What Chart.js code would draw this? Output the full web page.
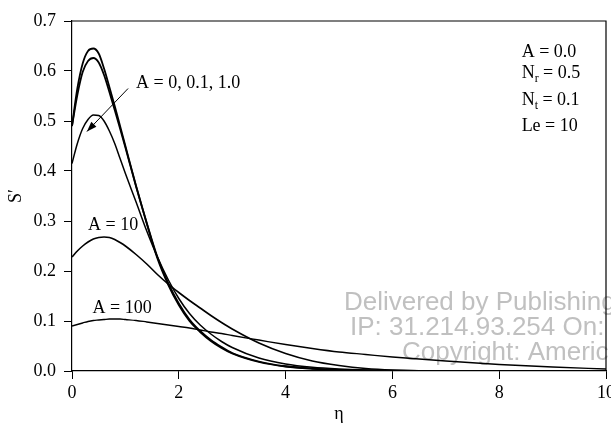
<!DOCTYPE html>
<html><head><meta charset="utf-8">
<script src="https://cdn.jsdelivr.net/npm/chart.js@4/dist/chart.umd.min.js"></script>
<style>html,body{margin:0;padding:0;background:#fff}#wrap{width:611px;height:427px}</style>
</head><body><div id="wrap"><canvas id="c" width="611" height="427"></canvas></div>
<script>
// η grid shared by all curves
const eta = [0,0.1,0.2,0.3,0.4,0.5,0.6,0.7,0.8,0.9,1.0,1.2,1.4,1.6,1.8,2.0,2.2,2.4,2.6,2.8,3.0,3.5,4.0,4.5,5.0,5.5,6,7,8,9,10];
const sA0   = [0.49,0.565,0.615,0.64,0.645,0.635,0.605,0.568,0.53,0.49,0.45,0.37,0.295,0.225,0.173,0.132,0.1,0.078,0.06,0.046,0.035,0.018,0.009,0.0045,0.002,0.001,0,0,0,0,0];
const sA01  = [0.49,0.552,0.598,0.62,0.626,0.617,0.592,0.558,0.522,0.485,0.447,0.369,0.296,0.228,0.176,0.135,0.103,0.08,0.062,0.048,0.036,0.019,0.0095,0.0048,0.0022,0.001,0,0,0,0,0];
const sA1   = [0.415,0.455,0.485,0.503,0.512,0.511,0.5,0.48,0.455,0.425,0.395,0.338,0.28,0.228,0.183,0.145,0.115,0.092,0.074,0.059,0.047,0.026,0.014,0.0075,0.004,0.002,0.001,0,0,0,0];
const sA10  = [0.228,0.24,0.25,0.258,0.264,0.267,0.268,0.267,0.263,0.257,0.25,0.233,0.214,0.193,0.174,0.157,0.141,0.126,0.111,0.097,0.084,0.056,0.035,0.02,0.011,0.005,0.002,0,0,0,0];
const sA100 = [0.09,0.093,0.096,0.099,0.101,0.102,0.103,0.104,0.104,0.104,0.103,0.101,0.098,0.095,0.092,0.089,0.086,0.082,0.078,0.075,0.071,0.062,0.053,0.045,0.038,0.033,0.028,0.02,0.013,0.008,0.004];
const seriesNames = ['A = 0','A = 0.1','A = 1.0','A = 10','A = 100'];
const seriesValues = [sA0, sA01, sA1, sA10, sA100];
const seriesWidths = [1.8, 1.8, 1.5, 1.6, 1.3];
const xTickValues = [0,2,4,6,8,10];
const yTickValues = [0.0,0.1,0.2,0.3,0.4,0.5,0.6,0.7];
const paramLines = [['A',null,' = 0.0'],['N','r',' = 0.5'],['N','t',' = 0.1'],['Le',null,' = 10']];
const watermark = ['Delivered by Publishing','IP: 31.214.93.254 On:','Copyright: Americ'];

const SERIF = '"Liberation Serif", "Times New Roman", serif';
const FS = 18;

const datasets = seriesValues.map((vals,i)=>({
  label: seriesNames[i],
  data: eta.map((x,j)=>({x:x,y:vals[j]})),
  borderColor:'#000', backgroundColor:'#000',
  borderWidth: seriesWidths[i], pointRadius:0,
  cubicInterpolationMode:'monotone', fill:false
}));

const annot = {
  id:'annot',
  beforeDatasetsDraw(chart){
    const ctx = chart.ctx;
    ctx.save();
    ctx.fillStyle = 'rgba(185,185,185,0.9)';
    ctx.font = '26px "Liberation Sans", Arial, sans-serif';
    ctx.textBaseline = 'middle';
    ctx.textAlign = 'left';
    ctx.fillText(watermark[0], 344, 303);
    ctx.fillText(watermark[1], 350, 328);
    ctx.fillText(watermark[2], 402, 353);
    ctx.restore();
  },
  afterDatasetsDraw(chart){
    const {ctx, chartArea:a, scales:{x,y}} = chart;
    ctx.save();
    // frame top/right
    ctx.strokeStyle = '#000'; ctx.lineWidth = 1.2;
    ctx.beginPath();
    ctx.moveTo(a.left, a.top); ctx.lineTo(a.right, a.top); ctx.lineTo(a.right, a.bottom);
    ctx.stroke();
    ctx.fillStyle = '#000';
    ctx.font = FS + 'px ' + SERIF;
    ctx.textBaseline = 'middle';
    // label with arrow
    ctx.textAlign = 'left';
    ctx.fillText('A = 0, 0.1, 1.0', x.getPixelForValue(1.2), y.getPixelForValue(0.575));
    const x1 = x.getPixelForValue(1.05), y1 = y.getPixelForValue(0.565);
    const x2 = x.getPixelForValue(0.28), y2 = y.getPixelForValue(0.479);
    ctx.lineWidth = 1;
    ctx.beginPath(); ctx.moveTo(x1,y1); ctx.lineTo(x2,y2); ctx.stroke();
    const ang = Math.atan2(y2-y1, x2-x1), L = 10, W = 3.5;
    ctx.beginPath();
    ctx.moveTo(x2,y2);
    ctx.lineTo(x2 - L*Math.cos(ang) + W*Math.sin(ang), y2 - L*Math.sin(ang) - W*Math.cos(ang));
    ctx.lineTo(x2 - L*Math.cos(ang) - W*Math.sin(ang), y2 - L*Math.sin(ang) + W*Math.cos(ang));
    ctx.closePath(); ctx.fill();
    ctx.textAlign = 'center';
    ctx.fillText('A = 10', x.getPixelForValue(0.77), y.getPixelForValue(0.291));
    ctx.fillText('A = 100', x.getPixelForValue(0.94), y.getPixelForValue(0.126));
    // parameter block
    ctx.textAlign = 'left';
    const px0 = x.getPixelForValue(8.42);
    const ys = [0.637, 0.595, 0.541, 0.489];
    paramLines.forEach((p,i)=>{
      let px = px0; const py = y.getPixelForValue(ys[i]);
      ctx.font = FS + 'px ' + SERIF;
      ctx.fillText(p[0], px, py); px += ctx.measureText(p[0]).width;
      if (p[1]) {
        ctx.font = '12px ' + SERIF;
        ctx.fillText(p[1], px, py + 5); px += ctx.measureText(p[1]).width;
        ctx.font = FS + 'px ' + SERIF;
      }
      ctx.fillText(p[2], px, py);
    });
    ctx.restore();
  }
};

new Chart(document.getElementById('c'), {
  type:'line',
  data:{datasets},
  options:{
    responsive:false, animation:false, devicePixelRatio:1,
    layout:{padding:{top:21,right:5,left:0,bottom:0}},
    plugins:{legend:{display:false}, tooltip:{enabled:false}},
    scales:{
      x:{type:'linear', min:0, max:10,
        afterBuildTicks(s){ s.ticks = xTickValues.map(v=>({value:v})); },
        afterFit(s){ s.height = 56; s.paddingRight = 0; s.paddingLeft = 0; },
        ticks:{color:'#000', font:{family:SERIF,size:FS}, padding:3, maxRotation:0,
          callback:(v)=>String(v)},
        grid:{display:true, drawOnChartArea:false, drawTicks:true, tickLength:8, color:'#000', lineWidth:1},
        border:{display:true, color:'#000', width:1.2},
        title:{display:true, text:'η', color:'#000', font:{family:SERIF,size:FS}, padding:{top:0,bottom:2}}
      },
      y:{type:'linear', min:0, max:0.7,
        afterBuildTicks(s){ s.ticks = yTickValues.map(v=>({value:v})); },
        afterFit(s){ s.width = 72; s.paddingTop = 0; s.paddingBottom = 0; },
        ticks:{color:'#000', font:{family:SERIF,size:FS}, padding:8,
          callback:(v)=>Number(v).toFixed(1)},
        grid:{display:true, drawOnChartArea:false, drawTicks:true, tickLength:8, color:'#000', lineWidth:1},
        border:{display:true, color:'#000', width:1.2},
        title:{display:true, text:'S′', color:'#000', font:{family:SERIF,size:FS}, padding:{top:5,bottom:0}}
      }
    }
  },
  plugins:[annot]
});
</script></body></html>
